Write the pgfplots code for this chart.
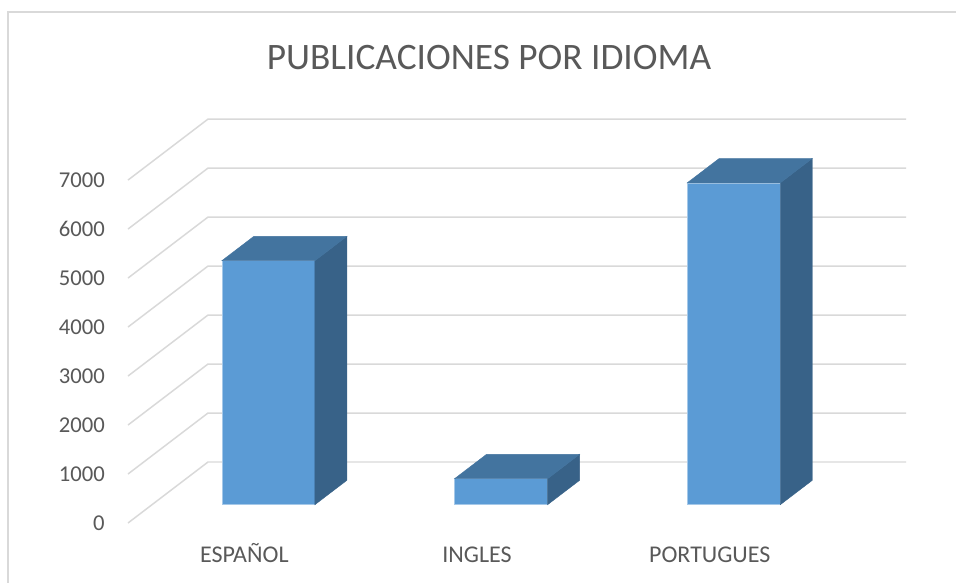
\documentclass[border=0pt]{standalone}
\usepackage{pgfplots}
\pgfplotsset{compat=1.18}
\usepackage{fontspec}
\setmainfont{Carlito}
\definecolor{txt}{HTML}{595959}
\definecolor{gridc}{HTML}{D9D9D9}
\definecolor{barfront}{HTML}{5B9BD5}
\definecolor{bartop}{HTML}{43749F}
\definecolor{barside}{HTML}{386288}
% projection of (x, depth, value) onto the 2D axis (oblique view)
\pgfplotsset{
  table/proj/.style={row sep=\\,
    x expr={#1+\thisrow{x}+0.34375*\thisrow{d}},
    y expr={\thisrow{v}+1245*\thisrow{d}}},
  table/proj/.default=0,
}
\newcommand{\drawbar}[2]{%
  \addplot[fill=barfront, draw=barfront!55!white, line width=0.4pt]
    table[proj=#1]{x d v\\ 0.3 0.3 0\\ 0.7 0.3 0\\ 0.7 0.3 #2\\ 0.3 0.3 #2\\} -- cycle;
  \addplot[fill=barside, draw=barside, line width=0.3pt]
    table[proj=#1]{x d v\\ 0.7 0.3 0\\ 0.7 0.7 0\\ 0.7 0.7 #2\\ 0.7 0.3 #2\\} -- cycle;
  \addplot[fill=bartop, draw=bartop, line width=0.3pt]
    table[proj=#1]{x d v\\ 0.3 0.3 #2\\ 0.7 0.3 #2\\ 0.7 0.7 #2\\ 0.3 0.7 #2\\} -- cycle;
}
\begin{document}
\begin{tikzpicture}
\useasboundingbox (0,0) rectangle (717pt,436.5pt);
\fill[white] (0,0) rectangle (717pt,436.5pt);
\draw[gridc, line width=0.9pt] (6pt,-10pt) -- (6pt,427.5pt) -- (730pt,427.5pt);
\node[anchor=base, text=txt, font=\fontsize{28}{34}\selectfont] at (366.75pt,384pt) {PUBLICACIONES POR IDIOMA};
\begin{axis}[
  at={(96pt,44.25pt)}, anchor=south west,
  x=174.525pt, y=0.03675pt,
  xmin=0, xmax=3.34375, ymin=0, ymax=8245,
  axis line style={draw=none}, tick style={draw=none}, major tick length=0pt,
  xtick={0.5,1.5,2.5}, xticklabels={ESPAÑOL,INGLES,PORTUGUES},
  ytick={0,1000,...,7000},
  /pgf/number format/1000 sep={}, /pgf/number format/assume math mode=true,
  ticklabel style={text=txt, inner sep=0pt},
  yticklabel style={font=\fontsize{17}{20}\selectfont, anchor=east, xshift=-17.25pt},
  xticklabel style={font=\fontsize{18}{22}\selectfont, anchor=base, yshift=-29.25pt},
  clip=false,
]
\pgfplotsinvokeforeach{0,1000,...,7000}{
  \addplot[gridc, line width=1.1pt] table[proj]{x d v\\ 0 0 #1\\ 0 1 #1\\ 3 1 #1\\};
}
\drawbar{0}{4980}
\drawbar{1}{530}
\drawbar{2}{6570}
\end{axis}
\end{tikzpicture}
\end{document}
